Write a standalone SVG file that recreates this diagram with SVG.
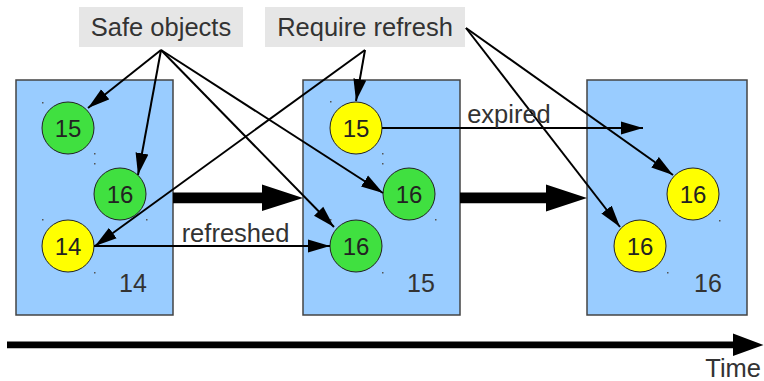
<svg xmlns="http://www.w3.org/2000/svg" width="764" height="381" viewBox="0 0 764 381">
<defs>
<marker id="ah" markerUnits="userSpaceOnUse" markerWidth="22" markerHeight="14" refX="22" refY="6.5" orient="auto" viewBox="0 0 22 13">
<path d="M0,0 L22,6.5 L0,13 z" fill="#000"/>
</marker>
</defs>
<style>
text{font-family:"Liberation Sans",Arial,sans-serif;fill:#333;text-anchor:middle}
.box{fill:#99ccff;stroke:#444;stroke-width:1.5}
.lbl{fill:#e6e6e6}
.lt{font-size:25.5px}
.g{fill:#40e040;stroke:#222;stroke-width:1}
.y{fill:#ffff00;stroke:#222;stroke-width:1}
.cn{font-size:24px;fill:#222}
.bn{font-size:25px}
.c line{stroke:#000;stroke-width:2;fill:none}
.c .a{marker-end:url(#ah)}
.dot{fill:#555}
</style>

<g id="label-safe"><rect class="lbl" x="79" y="7" width="164" height="40"/><text class="lt" x="161" y="36">Safe objects</text></g>
<g id="label-refresh"><rect class="lbl" x="265" y="7" width="200" height="40"/><text class="lt" x="365" y="36">Require refresh</text></g>

<g id="box14"><rect class="box" x="16" y="80" width="157" height="235"/><text class="bn" x="133" y="292">14</text></g>
<g id="box15"><rect class="box" x="303" y="80" width="157" height="235"/><text class="bn" x="421" y="292">15</text></g>
<g id="box16"><rect class="box" x="587" y="80" width="160" height="235"/><text class="bn" x="708" y="292">16</text></g>

<g id="dots">
<rect class="dot" x="42" y="102" width="1.5" height="1.5"/><rect class="dot" x="94" y="153" width="1.5" height="1.5"/>
<rect class="dot" x="94" y="163" width="1.5" height="1.5"/><rect class="dot" x="146" y="219" width="1.5" height="1.5"/>
<rect class="dot" x="42" y="219" width="1.5" height="1.5"/><rect class="dot" x="94" y="272" width="1.5" height="1.5"/>
<rect class="dot" x="330" y="101" width="1.5" height="1.5"/><rect class="dot" x="382" y="153" width="1.5" height="1.5"/>
<rect class="dot" x="382" y="163" width="1.5" height="1.5"/><rect class="dot" x="435" y="219" width="1.5" height="1.5"/>
<rect class="dot" x="330" y="219" width="1.5" height="1.5"/><rect class="dot" x="382" y="272" width="1.5" height="1.5"/>
<rect class="dot" x="719" y="220" width="1.5" height="1.5"/><rect class="dot" x="667" y="272" width="1.5" height="1.5"/>
</g>

<g id="c14-15"><circle class="g" cx="68" cy="128" r="26"/><text class="cn" x="68" y="137">15</text></g>
<g id="c14-16"><circle class="g" cx="120" cy="194" r="26"/><text class="cn" x="120" y="203">16</text></g>
<g id="c14-14"><circle class="y" cx="68" cy="246" r="26"/><text class="cn" x="68" y="255">14</text></g>

<g id="c15-15"><circle class="y" cx="356" cy="128" r="26"/><text class="cn" x="356" y="137">15</text></g>
<g id="c15-16a"><circle class="g" cx="409" cy="194" r="26"/><text class="cn" x="409" y="203">16</text></g>
<g id="c15-16b"><circle class="g" cx="356" cy="246" r="26"/><text class="cn" x="356" y="255">16</text></g>

<g id="c16-16a"><circle class="y" cx="693" cy="194" r="26"/><text class="cn" x="693" y="203">16</text></g>
<g id="c16-16b"><circle class="y" cx="640" cy="246" r="26"/><text class="cn" x="640" y="255">16</text></g>

<g id="connectors" class="c">
<line class="a" x1="161" y1="50" x2="88" y2="108"/>
<line class="a" x1="161" y1="50" x2="138" y2="175"/>
<line class="a" x1="161" y1="50" x2="334" y2="227"/>
<line class="a" x1="161" y1="50" x2="383" y2="193"/>
<line class="a" x1="365" y1="50" x2="356" y2="101"/>
<line class="a" x1="365" y1="50" x2="95" y2="246"/>
<line class="a" x1="466" y1="28" x2="673" y2="175"/>
<line class="a" x1="466" y1="28" x2="620" y2="227"/>
<line class="a" x1="382" y1="128" x2="643" y2="128"/>
<line class="a" x1="94" y1="246" x2="330" y2="246"/>
<path d="M173,192.5 H262 V184.5 L303,198 L262,211 V203.2 H173 z" fill="#000"/>
<path d="M460,192.5 H546 V184.5 L587,198 L546,211.5 V203.2 H460 z" fill="#000"/>
<path d="M7,341.5 H733 V333.5 L763.5,345 L733,356 V348.3 H7 z" fill="#000"/>
</g>

<text class="lt" x="235.5" y="241.5">refreshed</text>
<text class="lt" x="509" y="123">expired</text>
<text class="lt" x="761" y="377" style="text-anchor:end">Time</text>
</svg>
